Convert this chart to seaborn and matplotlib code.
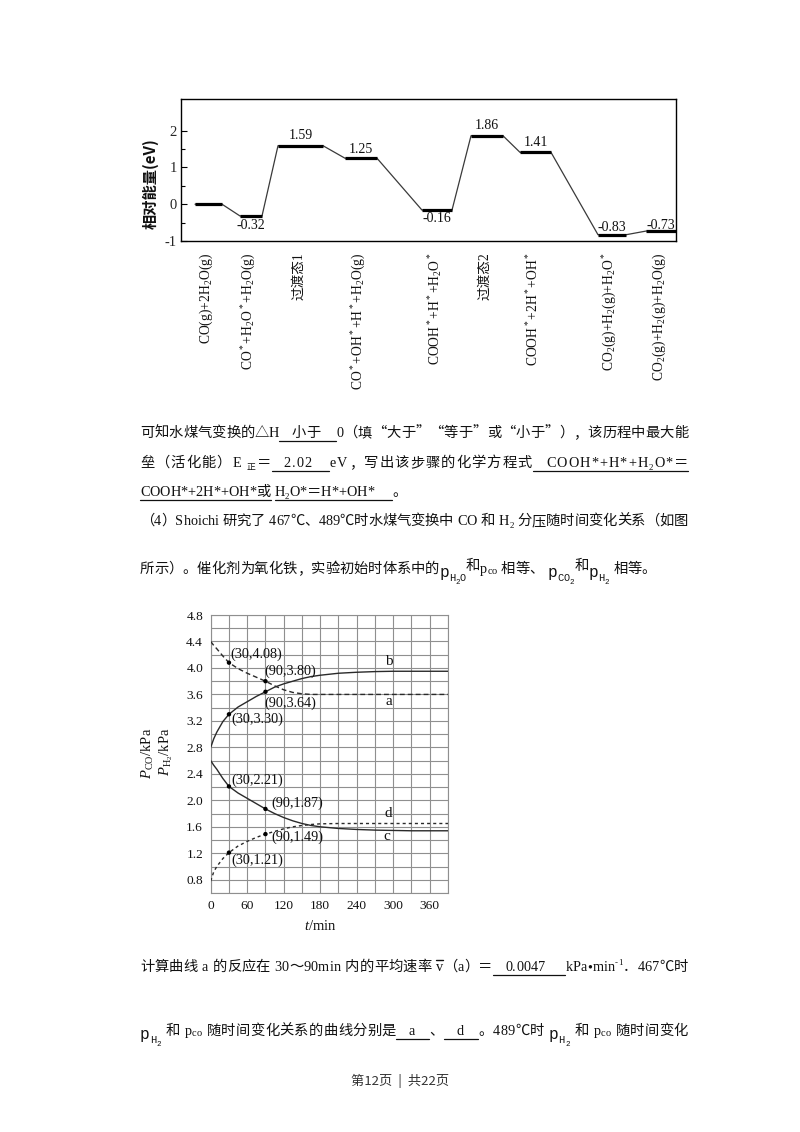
import matplotlib
matplotlib.use('Agg')
import numpy as np
import pandas as pd
import matplotlib.pyplot as plt
import seaborn as sns
from matplotlib.transforms import IdentityTransform, blended_transform_factory
from matplotlib.lines import Line2D

# ===================== DATA =====================
# --- energy profile (chart 1)
state_labels = [
    'CO(g)+2H$_2$O(g)',
    'CO$^*$+H$_2$O$^*$+H$_2$O(g)',
    '过渡态1',
    'CO$^*$+OH$^*$+H$^*$+H$_2$O(g)',
    'COOH$^*$+H$^*$+H$_2$O$^*$',
    '过渡态2',
    'COOH$^*$+2H$^*$+OH$^*$',
    'CO$_2$(g)+H$_2$(g)+H$_2$O$^*$',
    'CO$_2$(g)+H$_2$(g)+H$_2$O(g)',
]
energies = [0.00, -0.32, 1.59, 1.25, -0.16, 1.86, 1.41, -0.83, -0.73]
energy_texts = ['', '-0.32', '1.59', '1.25', '-0.16', '1.86', '1.41', '-0.83', '-0.73']
energy_ticks = [-1, 0, 1, 2]
energy_minor_ticks = [-0.5, 0.5, 1.5]

# --- partial pressure curves (chart 2)
t_min = [0, 5, 10, 20, 30, 45, 60, 75, 90, 105, 120, 135, 150, 165, 180, 210, 240, 270, 300, 330, 360, 390]
p_a = [4.40, 4.34, 4.29, 4.18, 4.08, 3.99, 3.92, 3.86, 3.80, 3.73, 3.67, 3.63, 3.61, 3.60, 3.60, 3.60, 3.60, 3.60, 3.60, 3.60, 3.60, 3.60]
p_b = [2.80, 2.93, 3.03, 3.19, 3.30, 3.41, 3.49, 3.57, 3.64, 3.71, 3.76, 3.80, 3.84, 3.87, 3.89, 3.92, 3.935, 3.945, 3.95, 3.95, 3.95, 3.95]
p_c = [2.60, 2.53, 2.47, 2.33, 2.21, 2.11, 2.03, 1.95, 1.87, 1.80, 1.74, 1.69, 1.65, 1.62, 1.60, 1.575, 1.56, 1.55, 1.545, 1.54, 1.54, 1.54]
p_d = [0.78, 0.92, 1.00, 1.12, 1.21, 1.31, 1.38, 1.44, 1.49, 1.53, 1.57, 1.60, 1.62, 1.635, 1.645, 1.65, 1.65, 1.65, 1.65, 1.65, 1.65, 1.65]
marked_t = [30, 90]
marked_a = [4.08, 3.80]
marked_b = [3.30, 3.64]
marked_c = [2.21, 1.87]
marked_d = [1.21, 1.49]
p_ticks = [0.8, 1.2, 1.6, 2.0, 2.4, 2.8, 3.2, 3.6, 4.0, 4.4, 4.8]
t_ticks = [0, 60, 120, 180, 240, 300, 360]
curve_names = ['a', 'b', 'c', 'd']

# ===================== LAYOUT =====================
level_start = [14, 59, 97, 164, 241, 290, 339, 417, 465]
level_end = [41, 81, 142, 196, 271, 322, 370, 445, 495]
value_dy_px = [0, -10, 10, 9, -8, 10, 10, 7, 6]
point_offsets_px = {  # (dx, dy) in pixels for the coordinate labels
    'a': [(1, 8), (-1, 10)],
    'b': [(2, -5), (-1, -11)],
    'c': [(2, 6), (6, 6)],
    'd': [(2, -8), (6, -3)],
}
curve_label_pos = {'a': (287, 3.50), 'b': (287, 4.10), 'c': (284, 1.46), 'd': (286, 1.80)}

SER = 'Liberation Serif'
CJK = 'Noto Sans CJK SC'
MONO = 'Liberation Mono'
TXT = '#111111'

sns.set_theme(style='white')
plt.rcParams['font.family'] = [SER, CJK, 'DejaVu Sans']
plt.rcParams['mathtext.fontset'] = 'custom'
plt.rcParams['mathtext.rm'] = SER
plt.rcParams['mathtext.it'] = SER + ':italic'
plt.rcParams['mathtext.bf'] = SER + ':bold'
plt.rcParams['axes.unicode_minus'] = False

DPI = 100
FW, FH = 800, 1132
fig = plt.figure(figsize=(FW / DPI, FH / DPI), dpi=DPI)
fig.patch.set_facecolor('white')
renderer = fig.canvas.get_renderer()
ID = IdentityTransform()


def ax_rect(left, top, right, bottom):
    return [left / FW, 1 - bottom / FH, (right - left) / FW, (bottom - top) / FH]


# ===================== CHART 1 =====================
ax1 = fig.add_axes(ax_rect(181, 99, 676, 241))
centers = [(s + e) / 2 for s, e in zip(level_start, level_end)]
px, py = [], []
for s, e, v in zip(level_start, level_end, energies):
    px += [s, e]
    py += [v, v]
path = pd.DataFrame({'x': px, 'E': py})
sns.lineplot(data=path, x='x', y='E', sort=False, estimator=None, ax=ax1,
             color='#3a3a3a', lw=0.9)
ax1.hlines(energies, level_start, level_end, color='black', lw=2.3, zorder=3)
ax1.set_xlim(0, 495)
ax1.set_ylim(-1, 2.86)
ax1.set_xticks([])
ax1.set_yticks(energy_ticks)
ax1.set_yticks(energy_minor_ticks, minor=True)
ax1.set_yticklabels([str(v) for v in energy_ticks])
ax1.tick_params(axis='y', which='major', direction='in', left=True, length=4,
                width=0.8, color='black', labelsize=10.5, pad=3)
ax1.tick_params(axis='y', which='minor', direction='in', left=True, length=3,
                width=0.8, color='black')
for lab in ax1.get_yticklabels():
    lab.set_family([SER])
for sp in ax1.spines.values():
    sp.set_color('black')
    sp.set_linewidth(1.0)
ax1.set_xlabel('')
ax1.set_ylabel('')

for c, v, txt, dy in zip(centers, energies, energy_texts, value_dy_px):
    if txt:
        ax1.annotate(txt, (c, v), xytext=(0, dy), textcoords='offset pixels',
                     ha='center', va='center', fontsize=10, family=[SER], color=TXT)

trans = blended_transform_factory(ax1.transData, ax1.transAxes)
for c, lab in zip(centers, state_labels):
    ax1.text(c - 2, -0.08, lab, transform=trans, rotation=90, ha='center',
             va='top', fontsize=9.8, family=[SER, CJK], color=TXT)

ax1.text(-0.062, 0.405, '相对能量(eV)', transform=ax1.transAxes, rotation=90,
         ha='center', va='center', fontsize=11, family=[CJK], fontweight='bold',
         color=TXT)

# ===================== CHART 2 =====================
ax2 = fig.add_axes(ax_rect(210.7, 615, 448, 893))
styles = {'a': (0, (3.5, 2.2)), 'b': '-', 'c': '-', 'd': (0, (2.2, 2.2))}
series = {'a': p_a, 'b': p_b, 'c': p_c, 'd': p_d}
marks = {'a': marked_a, 'b': marked_b, 'c': marked_c, 'd': marked_d}
for name in curve_names:
    sns.lineplot(x=t_min, y=series[name], ax=ax2, color='#2a2a2a', lw=1.0,
                 linestyle=styles[name], zorder=3)
for name in curve_names:
    sns.scatterplot(x=marked_t, y=marks[name], ax=ax2, color='black', s=10,
                    edgecolor='none', zorder=5)
    for t, v, (dx, dy) in zip(marked_t, marks[name], point_offsets_px[name]):
        ax2.annotate(f'({t},{v:.2f})', (t, v), xytext=(dx, dy),
                     textcoords='offset pixels', ha='left', va='center',
                     fontsize=10.2, family=[SER], color=TXT, zorder=6)
for name in curve_names:
    x, y = curve_label_pos[name]
    ax2.text(x, y, name, ha='left', va='center', fontsize=11, family=[SER], color=TXT)

ax2.set_xlim(0, 390)
ax2.set_ylim(0.6, 4.8)
ax2.set_xticks(t_ticks)
ax2.set_yticks(p_ticks)
ax2.set_xticks(np.arange(0, 391, 30), minor=True)
ax2.set_yticks(np.arange(0.6, 4.81, 0.2), minor=True)
ax2.set_xticklabels([str(v) for v in t_ticks])
ax2.set_yticklabels([f'{v:.1f}' for v in p_ticks])
ax2.grid(True, which='both', color='#8f8f8f', lw=0.8)
ax2.tick_params(axis='both', which='both', length=0, labelsize=9.6, labelcolor=TXT)
ax2.tick_params(axis='y', pad=5.5)
ax2.tick_params(axis='x', pad=5)
for lab in ax2.get_xticklabels() + ax2.get_yticklabels():
    lab.set_family([SER])
for sp in ax2.spines.values():
    sp.set_color('#8f8f8f')
    sp.set_linewidth(0.8)
ax2.set_xlabel('')
ax2.set_ylabel('')

fig.text(148, FH - 728, '$P_{\\mathrm{CO}}$/kPa', transform=ID, rotation=90,
         ha='center', va='top', fontsize=10.5, family=[SER], color=TXT)
fig.text(166, FH - 728, '$P_{\\mathrm{H_2}}$/kPa', transform=ID, rotation=90,
         ha='center', va='top', fontsize=10.5, family=[SER], color=TXT)
fig.text(320, FH - 926, '$t$/min', transform=ID, ha='center', va='center',
         fontsize=10.5, family=[SER], color=TXT)

# ===================== BODY TEXT =====================
BASE = 10.3
_mc = {}


def _w(s, fam, fs, style):
    t = fig.text(0, 0, s, fontsize=fs, family=[fam, 'DejaVu Sans'], style=style)
    w = t.get_window_extent(renderer).width
    t.remove()
    return w


def metrics(ch, fam, fs, style='normal'):
    key = (ch, fam, fs, style)
    if key not in _mc:
        a = _w('H' + ch + 'H', fam, fs, style) - _w('HH', fam, fs, style)
        lsb = a - (_w(ch + 'H', fam, fs, style) - _w('H', fam, fs, style))
        _mc[key] = (a, lsb)
    return _mc[key]


def T(s, **kw):
    return ('t', s, kw)


def G(px, **kw):
    return ('g', px, kw)


def pick(ch, kw):
    if kw.get('mono'):
        return MONO
    if ord(ch) >= 0x2000 and ch not in '•':
        return CJK
    return SER


def draw_line(tokens, baseline, x0=140, x1=None, size=BASE):
    yb = FH - baseline
    items = []
    for kind, val, kw in tokens:
        if kind == 'g':
            items.append(dict(ch=None, w=val, kw=kw))
            continue
        for ch in val:
            if ch == ' ':
                items.append(dict(ch=None, w=size * 0.28 * DPI / 72, kw=kw))
                continue
            fs = kw.get('size', size)
            if kw.get('sub') or kw.get('sup'):
                fs = fs * 0.62
            fam = pick(ch, kw)
            a, lsb = metrics(ch, fam, fs, kw.get('style', 'normal'))
            items.append(dict(ch=ch, w=a, lsb=lsb, fam=fam, fs=fs, kw=kw))
    natural = sum(it['w'] for it in items)
    extra = 0.0
    if x1 is not None and len(items) > 1:
        extra = (x1 - x0 - natural) / (len(items) - 1)
    x = x0
    for it in items:
        it['x'] = x
        x += it['w'] + extra
    for it in items:
        if it['ch'] is None:
            continue
        kw = it['kw']
        spx = size * DPI / 72
        dy = kw.get('dy', 0)
        if kw.get('sub'):
            dy += -0.22 * spx
        if kw.get('sup'):
            dy += 0.42 * spx
        fig.text(it['x'] + it['lsb'], yb + dy, it['ch'], transform=ID,
                 fontsize=it['fs'], family=[it['fam'], 'DejaVu Sans'],
                 style=kw.get('style', 'normal'), ha='left', va='baseline', color=TXT)
        if kw.get('ovl'):
            fig.add_artist(Line2D([it['x'], it['x'] + it['w']], [yb + 0.78 * spx] * 2,
                                  transform=ID, color=TXT, lw=1.0))
    # underlines
    i = 0
    n = len(items)
    while i < n:
        if items[i]['kw'].get('u'):
            j = i
            while j + 1 < n and items[j + 1]['kw'].get('u'):
                j += 1
            xa = items[i]['x']
            xb = items[j]['x'] + items[j]['w']
            fig.add_artist(Line2D([xa, xb], [yb - 3.5, yb - 3.5], transform=ID,
                                  color=TXT, lw=0.9))
            i = j + 1
        else:
            i += 1


def formula(parts, dy0=-4):
    toks = [T('p', mono=True, size=11.5, dy=dy0)]
    for s, lvl in parts:
        if lvl == 1:
            toks.append(T(s, mono=True, size=7.5, dy=dy0 - 4))
        else:
            toks.append(T(s, mono=True, size=5.5, dy=dy0 - 7))
    return toks


PH2O = formula([('H', 1), ('2', 2), ('O', 1)])
PCO2 = formula([('CO', 1), ('2', 2)])
PH2 = formula([('H', 1), ('2', 2)])
PCO = [T('p'), T('co', size=7.5, dy=-1.5)]

line1 = [T('可知水煤气变换的△H'), G(12, u=True), T('小于', u=True), G(16, u=True),
         T('0（填“大于”“等于”或“小于”），该历程中最大能')]
line2 = [T('垒（活化能）E '), T('正', sub=True), T('＝'), G(10, u=True), T('2.02', u=True),
         G(16, u=True), T('eV，写出该步骤的化学方程式'), G(12, u=True),
         T('COOH*+H*+H', u=True), T('2', u=True, sub=True), T('O*＝', u=True)]
line3 = [T('COOH*+2H*+OH*或', u=True), G(4), T('H', u=True), T('2', u=True, sub=True),
         T('O*＝H*+OH*', u=True), G(18, u=True), T('。')]
line4 = [T('（4）Shoichi 研究了 467℃、489℃时水煤气变换中 CO 和 H'), T('2', sub=True),
         T(' 分压随时间变化关系（如图')]
line5 = ([T('所示）。催化剂为氧化铁，实验初始时体系中的')] + PH2O + [T('和', dy=3)] + PCO +
         [T(' 相等、 ')] + PCO2 + [T('和', dy=3)] + PH2 + [T(' 相等。')])
line6 = [T('计算曲线 a 的反应在 30～90min 内的平均速率 '), T('v', ovl=True), T('（a）＝'),
         G(12, u=True), T('0.0047', u=True), G(20, u=True), T('kPa•min'),
         T('-1', sup=True), T('．467℃时')]
line7 = (PH2 + [T(' 和 ')] + PCO + [T(' 随时间变化关系的曲线分别是'), G(12, u=True),
         T('a', u=True), G(14, u=True), T('、'), G(12, u=True), T('d', u=True),
         G(14, u=True), T('。489℃时 ')] + PH2 + [T(' 和 ')] + PCO + [T(' 随时间变化')])

draw_line(line1, 437, x1=688)
draw_line(line2, 467, x1=688)
draw_line(line3, 496)
draw_line(line4, 525, x1=688)
draw_line(line5, 573)
draw_line(line6, 971, x1=688)
draw_line(line7, 1035, x1=688)

fig.text(400, FH - 1081, '第12页  |  共22页', transform=ID, ha='center', va='center',
         fontsize=9.5, family=[CJK], color='#333333')

fig.savefig('out.png', dpi=DPI, facecolor='white')
